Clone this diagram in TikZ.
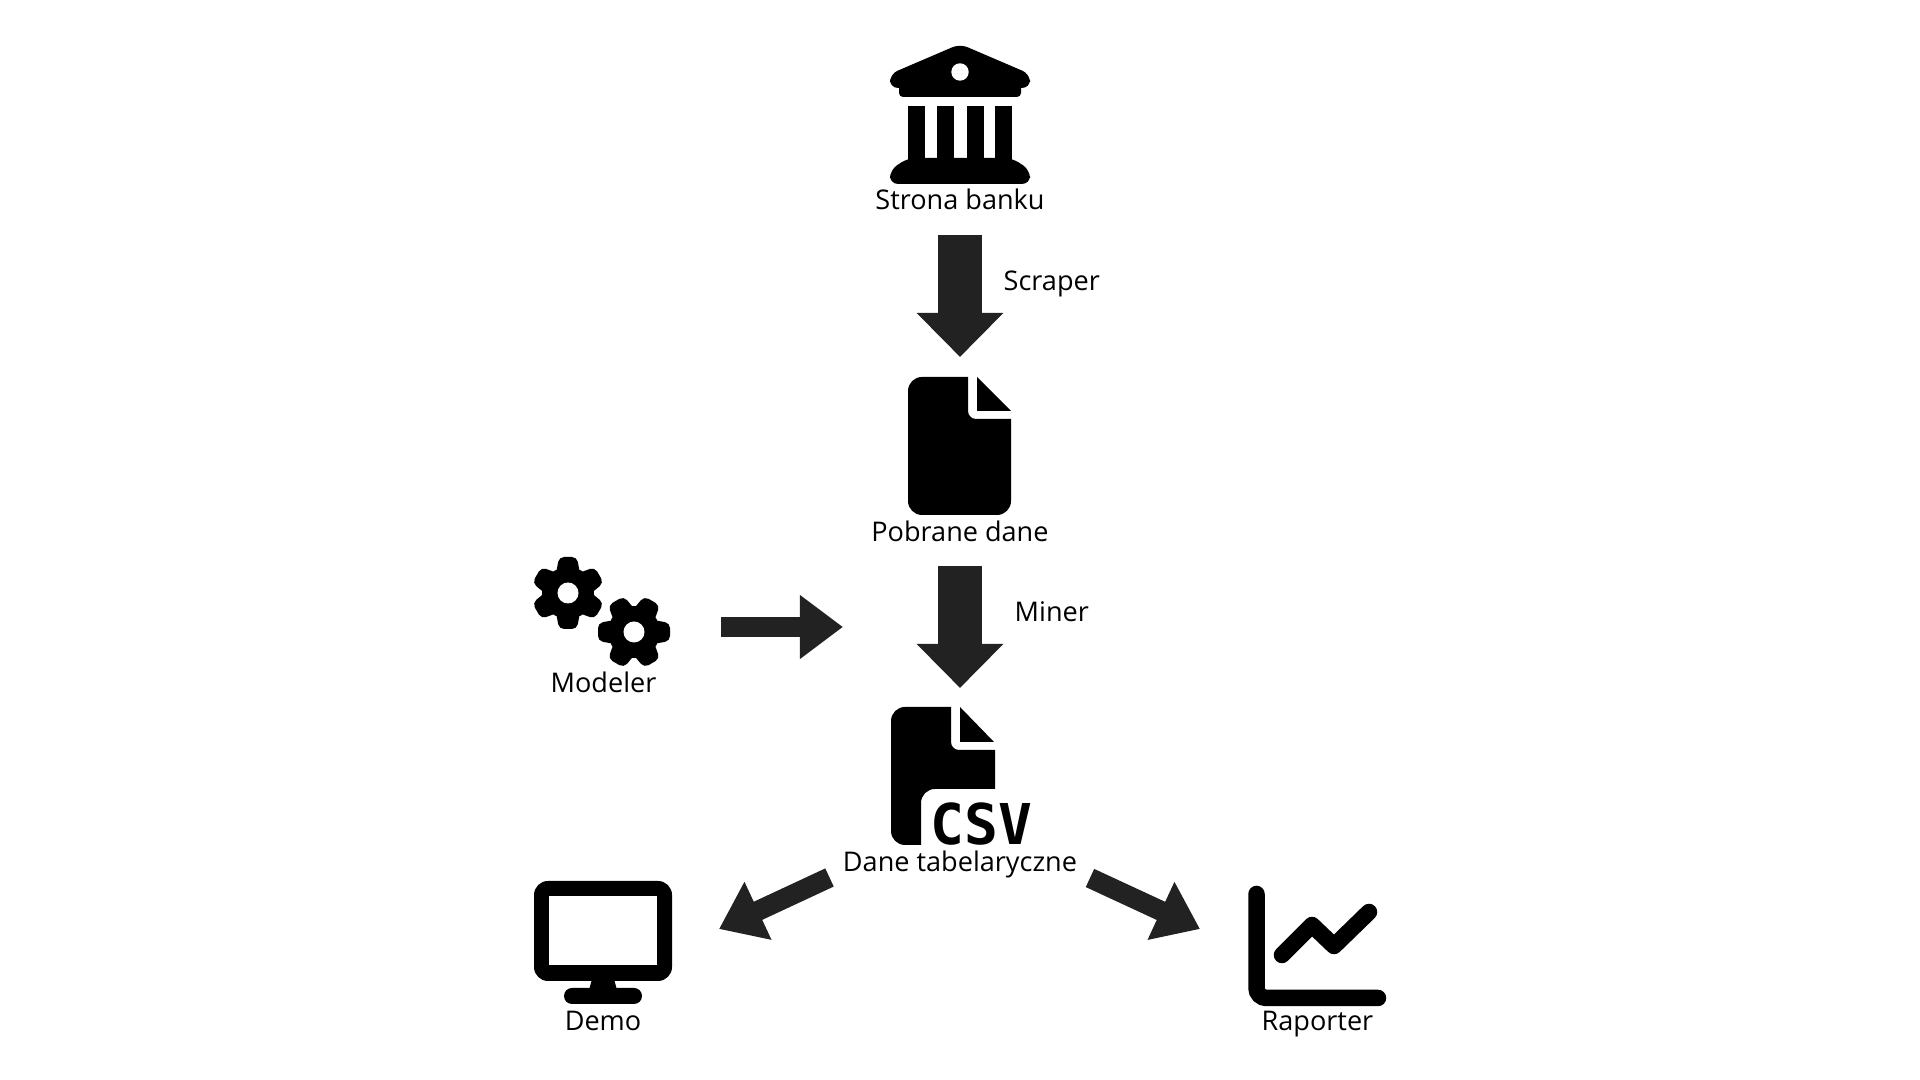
\documentclass[tikz,border=0pt]{standalone}
\usepackage{fontspec}
\usepackage{xcolor}
\usetikzlibrary{arrows.meta}
\setmainfont{Open Sans}
\newfontfamily\csvfont{DejaVu Sans Mono}
\definecolor{arrowcolor}{HTML}{222222}
\tikzset{
  labeltext/.style={anchor=base,inner sep=0pt,text=black,font=\fontsize{7.7}{10}\selectfont},
  bigarrow/.style={arrowcolor,line width=0.43cm,-{Triangle[length=0.44cm,width=0.84cm]}},
  smallarrow/.style={arrowcolor,line width=0.2cm,-{Triangle[length=0.43cm,width=0.61cm]}},
  gearicon/.pic={
    \fill (0,0) circle (0.26cm);
    \foreach \a in {0,60,...,300}
      \fill[rotate=\a,rounded corners=0.05cm] (19,-12) -- (36,-9) -- (36,9) -- (19,12) -- cycle;
    \fill[white] (0,0) circle (0.105cm);
  }
}
\begin{document}
\begin{tikzpicture}[x=0.01cm,y=-0.01cm]
  \useasboundingbox (0,0) rectangle (1920,1080);
%% bank
  \fill[rounded corners=0.08cm] (960,44) -- (890,74) -- (890,88) -- (1030,88) -- (1030,74) -- cycle;
  \fill[rounded corners=0.04cm] (899,84) rectangle (1021,97);
  \fill[white] (960,72) circle (0.087cm);
  \foreach \x in {908,937,967,995}
    \fill (\x,106) rectangle ++(17,54);
  \fill[rounded corners=0.08cm] (908,158) -- (1012,158) -- (1030,170) -- (1030,184) -- (890,184) -- (890,170) -- cycle;
  \node[labeltext] (bank) at (960,210) {Strona banku};
%% raw data file
  \fill (968,377) [rounded corners=0.14cm] -- (908,377) -- (908,515) -- (1011,515) [sharp corners] -- (1011,419) [rounded corners=0.08cm] -- (968,419) [sharp corners] -- cycle;
  \fill (977,377) -- (1011,411) -- (977,411) -- cycle;
  \node[labeltext] (rawdata) at (960,542) {Pobrane dane};
%% csv file
  \fill (951,707) [rounded corners=0.14cm] -- (891,707) -- (891,845) [sharp corners] -- (921,845) [rounded corners=0.14cm] -- (921,789) [sharp corners] -- (995,789) -- (995,750) [rounded corners=0.08cm] -- (951,750) [sharp corners] -- cycle;
  \fill (960,707) -- (994,742) -- (960,742) -- cycle;
  \node[anchor=base,inner sep=0pt,text depth=0pt] (csv) at (981.5,845) {\csvfont\bfseries\fontsize{16}{18}\selectfont CSV};
  \node[labeltext] (table) at (960,872) {Dane tabelaryczne};
%% gears
  \pic at (568,593) [rotate=90] {gearicon};
  \pic at (634,632) {gearicon};
  \node[labeltext] (modeler) at (603.5,693) {Modeler};
%% monitor
  \fill[rounded corners=0.14cm] (534,881) rectangle (672,981);
  \fill[white] (549,896) rectangle (657,965);
  \fill (592,979) -- (614,979) -- (617,990) -- (589,990) -- cycle;
  \fill[rounded corners=0.08cm] (564,988) rectangle (642,1004);
  \node[labeltext] (demo) at (603,1031) {Demo};
%% chart
  \draw[line width=0.165cm,line cap=round,rounded corners=0.1cm] (1256.5,894) -- (1256.5,998) -- (1378,998);
  \draw[line width=0.165cm,line cap=round,line join=round] (1282,955) -- (1312,925) -- (1334,946) -- (1369,912);
  \node[labeltext] (report) at (1317.5,1031) {Raporter};
%% arrows
  \coordinate (scraperfrom) at (960,235);
  \coordinate (scraperto) at (960,357);
  \coordinate (minerfrom) at (960,566);
  \coordinate (minerto) at (960,688);
  \coordinate (modelfrom) at (721,627);
  \coordinate (modelto) at (843,627);
  \coordinate (demofrom) at (829.5,877.5);
  \coordinate (demoto) at (719,929);
  \coordinate (reportfrom) at (1090,878);
  \coordinate (reportto) at (1200,929);
  \draw[bigarrow] (scraperfrom) -- (scraperto);
  \draw[bigarrow] (minerfrom) -- (minerto);
  \draw[smallarrow] (modelfrom) -- (modelto);
  \draw[smallarrow] (demofrom) -- (demoto);
  \draw[smallarrow] (reportfrom) -- (reportto);
  \node[labeltext,anchor=base west] (scraper) at (1003,291) {Scraper};
  \node[labeltext,anchor=base west] (miner) at (1014,622) {Miner};
\end{tikzpicture}
\end{document}
